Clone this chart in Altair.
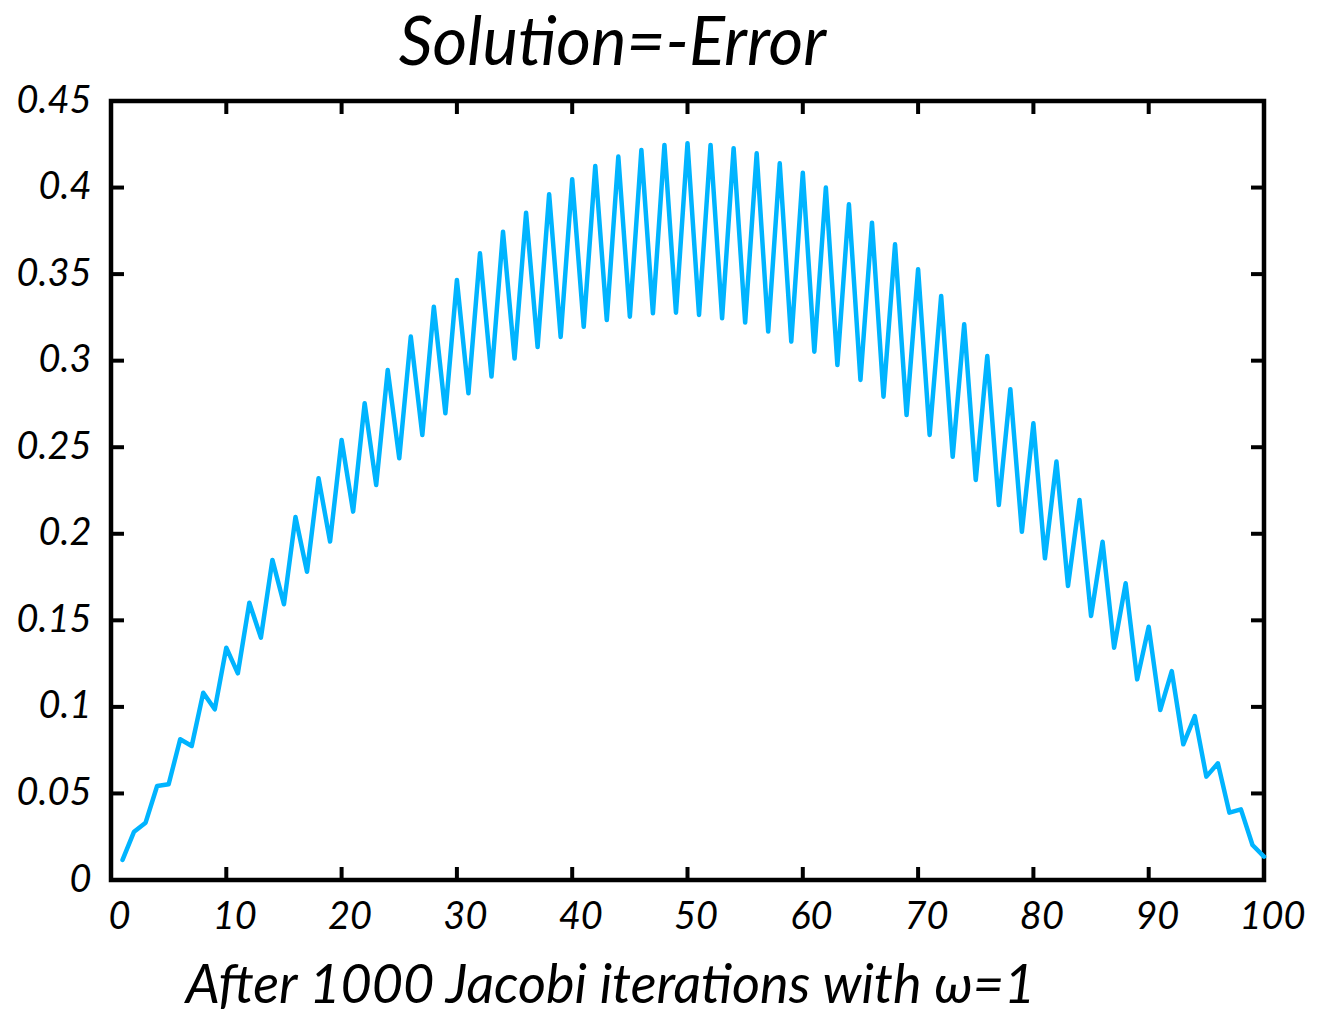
import altair as alt
import pandas as pd

# ---- data ----
x_index = list(range(1, 101))
error_values = [
    0.0116, 0.0279, 0.0331, 0.0543, 0.0553, 0.0813, 0.0774, 0.1082, 0.0986, 0.1342,
    0.1194, 0.1602, 0.1400, 0.1849, 0.1593, 0.2097, 0.1781, 0.2321, 0.1955, 0.2542,
    0.2128, 0.2754, 0.2282, 0.2946, 0.2436, 0.3139, 0.2571, 0.3312, 0.2696, 0.3466,
    0.2812, 0.3620, 0.2908, 0.3745, 0.3012, 0.3855, 0.3079, 0.3962, 0.3137, 0.4048,
    0.3196, 0.4125, 0.3235, 0.4179, 0.3254, 0.4217, 0.3274, 0.4246, 0.3277, 0.4256,
    0.3264, 0.4246, 0.3245, 0.4227, 0.3220, 0.4198, 0.3168, 0.4140, 0.3110, 0.4086,
    0.3052, 0.4000, 0.2975, 0.3903, 0.2889, 0.3797, 0.2792, 0.3672, 0.2686, 0.3528,
    0.2571, 0.3374, 0.2445, 0.3210, 0.2311, 0.3027, 0.2166, 0.2835, 0.2012, 0.2638,
    0.1858, 0.2417, 0.1698, 0.2195, 0.1525, 0.1954, 0.1342, 0.1714, 0.1159, 0.1463,
    0.0982, 0.1207, 0.0784, 0.0947, 0.0597, 0.0674, 0.0389, 0.0408, 0.0202, 0.0135,
]
x_ticks = [0, 10, 20, 30, 40, 50, 60, 70, 80, 90, 100]
y_ticks = [0, 0.05, 0.1, 0.15, 0.2, 0.25, 0.3, 0.35, 0.4, 0.45]
x_inner_ticks = [10, 20, 30, 40, 50, 60, 70, 80, 90]
y_inner_ticks = [0.05, 0.1, 0.15, 0.2, 0.25, 0.3, 0.35, 0.4]

title_text = "Solution=-Error"
x_title = "After 1000 Jacobi iterations with \u03c9=1"

FONT = "Lato"
W, H = 1153, 779
TICK = 13

df = pd.DataFrame({"x": x_index, "e": error_values})
xt = pd.DataFrame({"v": x_inner_ticks})
yt = pd.DataFrame({"v": y_inner_ticks})

xscale = alt.Scale(domain=[0, 100], nice=False, zero=False)
yscale = alt.Scale(domain=[0, 0.45], nice=False, zero=False)

xaxis = alt.Axis(
    values=x_ticks, title=x_title, grid=False, domain=False, ticks=False,
    labelFont=FONT, labelFontStyle="italic", labelFontSize=38, labelColor="black",
    labelPadding=18, labelFlush=False, labelOverlap=False, labelOffset=8,
    titleFont=FONT, titleFontStyle="italic", titleFontSize=54, titleFontWeight="normal",
    titleColor="black", titleX=499, titleY=122, titleAlign="center",
    titleBaseline="alphabetic",
)
yaxis = alt.Axis(
    values=y_ticks, format=".2~f", title=None, grid=False, domain=False, ticks=False,
    labelFont=FONT, labelFontStyle="italic", labelFontSize=38, labelColor="black",
    labelPadding=20, labelOverlap=False, labelFlush=False, labelBaseline="middle",
)

line = alt.Chart(df).mark_line(color="#00b4ff", strokeWidth=4.5, strokeJoin="round", strokeCap="round").encode(
    x=alt.X("x:Q", scale=xscale, axis=xaxis),
    y=alt.Y("e:Q", scale=yscale, axis=yaxis),
)

tick_style = dict(color="black", strokeWidth=4)
bottom_ticks = alt.Chart(xt).mark_rule(**tick_style).encode(
    x=alt.X("v:Q", scale=xscale), y=alt.value(H), y2=alt.value(H - TICK))
top_ticks = alt.Chart(xt).mark_rule(**tick_style).encode(
    x=alt.X("v:Q", scale=xscale), y=alt.value(0), y2=alt.value(TICK))
left_ticks = alt.Chart(yt).mark_rule(**tick_style).encode(
    y=alt.Y("v:Q", scale=yscale), x=alt.value(0), x2=alt.value(TICK))
right_ticks = alt.Chart(yt).mark_rule(**tick_style).encode(
    y=alt.Y("v:Q", scale=yscale), x=alt.value(W), x2=alt.value(W - TICK))

chart = alt.layer(line, bottom_ticks, top_ticks, left_ticks, right_ticks).properties(
    width=W, height=H,
    padding={"left": 111, "top": 101, "right": 54, "bottom": 137},
    autosize="none",
    background="white",
    title=alt.TitleParams(
        text=title_text, font=FONT, fontStyle="italic", fontSize=67, fontWeight="normal",
        color="black", anchor="middle", frame="group", dx=-75, offset=3,
    ),
).configure_view(stroke="black", strokeWidth=4.5)

chart.save("out.html", embed_options={"renderer": "svg", "actions": False})
